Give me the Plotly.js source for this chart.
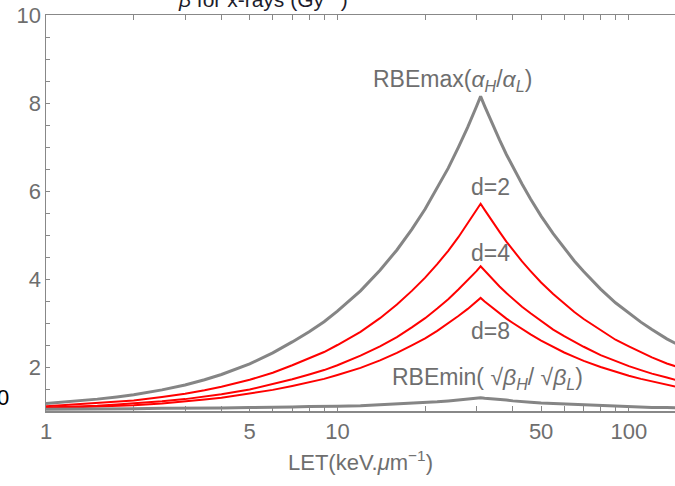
<!DOCTYPE html>
<html>
<head>
<meta charset="utf-8">
<script src="https://cdn.plot.ly/plotly-3.0.1.min.js"></script>
<style>html,body{margin:0;padding:0;background:#fff;overflow:hidden}#chart{width:675px;height:486px}</style>
</head>
<body>
<div id="chart"></div>
<script>
// LET values (keV/um)
const LET = [1, 1.25, 1.5, 1.75, 2, 2.5, 3, 3.5, 4, 5, 6, 7, 8, 9, 10, 12, 14, 16, 18, 20, 22, 24, 26, 28, 30, 31,
             32, 34, 36, 38, 40, 43, 46, 50, 55, 60, 65, 70, 80, 90, 100, 110, 120, 135, 150];
const rbeMax = [1.17, 1.22, 1.27, 1.32, 1.37, 1.48, 1.59, 1.71, 1.83, 2.07, 2.32, 2.57, 2.80, 3.03, 3.27, 3.73, 4.20, 4.66, 5.13, 5.59, 6.06, 6.52, 6.99, 7.45, 7.92, 8.15,
                7.93, 7.52, 7.16, 6.83, 6.54, 6.16, 5.82, 5.43, 5.03, 4.70, 4.41, 4.17, 3.77, 3.46, 3.22, 3.02, 2.85, 2.64, 2.48];
const rbeD2 = [1.11, 1.15, 1.18, 1.21, 1.24, 1.32, 1.39, 1.47, 1.55, 1.71, 1.87, 2.04, 2.19, 2.34, 2.50, 2.80, 3.11, 3.42, 3.73, 4.03, 4.34, 4.64, 4.95, 5.26, 5.57, 5.71,
               5.57, 5.30, 5.07, 4.85, 4.66, 4.40, 4.18, 3.92, 3.66, 3.44, 3.25, 3.09, 2.83, 2.62, 2.47, 2.33, 2.22, 2.08, 1.98];
const rbeD4 = [1.08, 1.10, 1.12, 1.15, 1.17, 1.22, 1.27, 1.33, 1.38, 1.49, 1.61, 1.72, 1.83, 1.93, 2.04, 2.26, 2.47, 2.68, 2.90, 3.11, 3.33, 3.54, 3.76, 3.97, 4.18, 4.29,
               4.19, 4.00, 3.83, 3.68, 3.55, 3.37, 3.22, 3.04, 2.85, 2.70, 2.57, 2.46, 2.27, 2.13, 2.02, 1.93, 1.85, 1.76, 1.68];
const rbeD8 = [1.06, 1.08, 1.10, 1.12, 1.13, 1.17, 1.21, 1.26, 1.30, 1.39, 1.48, 1.57, 1.65, 1.73, 1.82, 1.98, 2.15, 2.32, 2.49, 2.65, 2.82, 2.99, 3.16, 3.32, 3.49, 3.57,
               3.49, 3.35, 3.22, 3.10, 3.00, 2.86, 2.74, 2.60, 2.45, 2.33, 2.23, 2.14, 2.00, 1.89, 1.80, 1.73, 1.67, 1.59, 1.53];
const rbeMin = [1.04, 1.04, 1.05, 1.05, 1.05, 1.06, 1.06, 1.07, 1.07, 1.08, 1.08, 1.09, 1.10, 1.10, 1.11, 1.12, 1.14, 1.16, 1.17, 1.19, 1.21, 1.23, 1.25, 1.27, 1.29, 1.30,
                1.29, 1.28, 1.26, 1.25, 1.23, 1.22, 1.20, 1.18, 1.17, 1.15, 1.14, 1.13, 1.12, 1.11, 1.10, 1.09, 1.08, 1.08, 1.07];

const xTickVals = [1,2,3,4,5,6,7,8,9,10,20,30,40,50,60,70,80,90,100];
const xTickText = ['1','','','','5','','','','','10','','','','50','','','','','100'];
const yTickVals = [1,1.5,2,2.5,3,3.5,4,4.5,5,5.5,6,6.5,7,7.5,8,8.5,9,9.5,10];
const yTickText = ['','','2','','','','4','','','','6','','','','8','','','','10'];

const gray = '#858585';
const red = '#ff0000';
const txt = '#6e6e6e';
const fam = 'Liberation Sans, Arial, sans-serif';

const traces = [
  {x: LET, y: rbeMax, mode: 'lines', line: {color: gray, width: 3}, hoverinfo: 'skip'},
  {x: LET, y: rbeD2, mode: 'lines', line: {color: red, width: 2}, hoverinfo: 'skip'},
  {x: LET, y: rbeD4, mode: 'lines', line: {color: red, width: 2}, hoverinfo: 'skip'},
  {x: LET, y: rbeD8, mode: 'lines', line: {color: red, width: 2}, hoverinfo: 'skip'},
  {x: LET, y: rbeMin, mode: 'lines', line: {color: gray, width: 3}, hoverinfo: 'skip'}
];

const tf = {family: fam, size: 22, color: txt};
const af = {family: fam, size: 23, color: txt};

const layout = {
  width: 675, height: 486,
  margin: {l: 46, r: 0, t: 15, b: 75},
  paper_bgcolor: '#fff', plot_bgcolor: '#fff',
  showlegend: false,
  font: tf,
  xaxis: {
    type: 'log', range: [0, Math.log10(144)],
    tickmode: 'array', tickvals: xTickVals, ticktext: xTickText,
    ticks: 'inside', ticklen: 5, tickcolor: '#888', tickwidth: 1,
    showline: true, linecolor: '#888', linewidth: 1.5, mirror: 'ticks',
    showgrid: false, zeroline: false,
    tickfont: tf
  },
  yaxis: {
    range: [1, 10],
    tickmode: 'array', tickvals: yTickVals, ticktext: yTickText,
    ticks: 'inside', ticklen: 4, tickcolor: '#888', tickwidth: 1,
    showline: true, linecolor: '#888', linewidth: 1.5,
    showgrid: false, zeroline: false,
    ticklabelstandoff: -1,
    tickfont: tf
  },
  annotations: [
    {xref: 'paper', yref: 'paper', x: 0.345, y: 1.005, xanchor: 'center', yanchor: 'bottom', showarrow: false,
     text: '<i>β</i> for x-rays (Gy<sup>−2</sup>)', font: {family: fam, size: 21, color: '#1c1c2c'}},
    {xref: 'paper', yref: 'paper', x: -0.068, y: 0.033, xanchor: 'center', yanchor: 'middle', showarrow: false,
     text: '0', font: {family: fam, size: 22, color: '#000'}},
    {xref: 'paper', yref: 'paper', x: 0.5, y: -0.125, xanchor: 'center', yanchor: 'middle', showarrow: false,
     text: 'LET(keV.<i>μ</i>m<sup>−1</sup>)', font: tf},
    {xref: 'paper', yref: 'paper', x: (452-46)/629, y: (411-80)/396, xanchor: 'center', yanchor: 'middle', showarrow: false,
     text: 'RBEmax(<i>α</i><sub><i>H</i></sub>/<i>α</i><sub><i>L</i></sub>)', font: af},
    {xref: 'paper', yref: 'paper', x: (490-46)/629, y: (411-187)/396, xanchor: 'center', yanchor: 'middle', showarrow: false,
     text: 'd=2', font: af},
    {xref: 'paper', yref: 'paper', x: (490-46)/629, y: (411-253)/396, xanchor: 'center', yanchor: 'middle', showarrow: false,
     text: 'd=4', font: af},
    {xref: 'paper', yref: 'paper', x: (490-46)/629, y: (411-331)/396, xanchor: 'center', yanchor: 'middle', showarrow: false,
     text: 'd=8', font: af},
    {xref: 'paper', yref: 'paper', x: (487-46)/629, y: (411-378)/396, xanchor: 'center', yanchor: 'middle', showarrow: false,
     text: 'RBEmin( √<i>β</i><sub><i>H</i></sub>/ √<i>β</i><sub><i>L</i></sub>)', font: af}
  ]
};

Plotly.newPlot('chart', traces, layout, {displayModeBar: false, staticPlot: true});
</script>
</body>
</html>
